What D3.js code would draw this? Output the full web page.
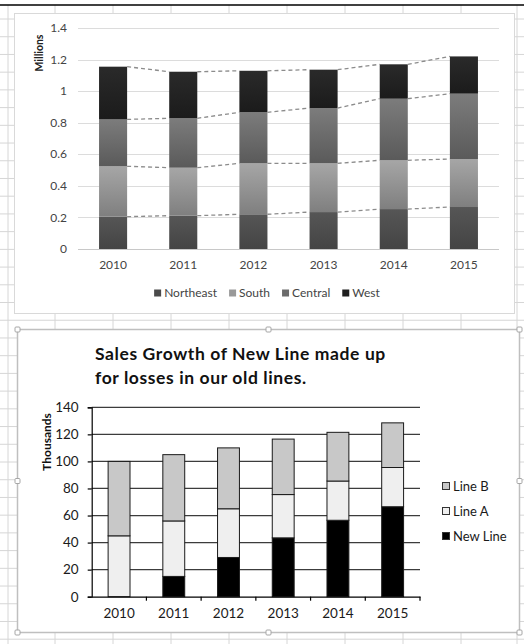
<!DOCTYPE html>
<html>
<head>
<meta charset="utf-8">
<script src="https://cdn.jsdelivr.net/npm/d3@7"></script>
<style>
  body { margin: 0; background: #fff; }
  text { font-family: Lato, "Liberation Sans", sans-serif; }
</style>
</head>
<body>
<script>
// ---- data: top chart (millions)
var years = ['2010', '2011', '2012', '2013', '2014', '2015'];
var regions = ['Northeast', 'South', 'Central', 'West'];
var northeast = [0.205, 0.211, 0.220, 0.234, 0.253, 0.266];
var south = [0.319, 0.304, 0.323, 0.309, 0.309, 0.304];
var central = [0.297, 0.313, 0.323, 0.350, 0.390, 0.414];
var west = [0.334, 0.295, 0.263, 0.243, 0.218, 0.236];
var topTicks = [0, 0.2, 0.4, 0.6, 0.8, 1, 1.2, 1.4];

// ---- data: bottom chart (thousands)
var lines = ['New Line', 'Line A', 'Line B'];
var newLine = [0, 15, 29, 43.5, 56.5, 66.5];
var lineA = [45, 41, 36, 32, 29, 29];
var lineB = [55, 49, 45, 41, 36, 33];
var botTicks = [0, 20, 40, 60, 80, 100, 120, 140];

var W = 524, H = 644;

var svg = d3.select('body')
    .append('svg')
    .attr('width', W)
    .attr('height', H);

// spreadsheet grid behind the charts
var colX = [8, 55, 113, 171, 229, 287, 345, 403, 461, 517];
var rowY = d3.range(19, H, 17.72);
svg.append('g').selectAll('line.col')
    .data(colX).enter().append('line')
    .attr('x1', d => d).attr('x2', d => d)
    .attr('y1', 5).attr('y2', H)
    .style('stroke', '#d6d6d6');
svg.append('g').selectAll('line.row')
    .data(rowY).enter().append('line')
    .attr('x1', 0).attr('x2', W)
    .attr('y1', d => d).attr('y2', d => d)
    .style('stroke', '#d6d6d6');
svg.append('line')
    .attr('x1', 0).attr('x2', W).attr('y1', 5).attr('y2', 5)
    .style('stroke', '#000').style('stroke-width', 1.5);

// ================= top chart =================
var topFrame = svg.append('g');
topFrame.append('rect')
    .attr('x', 14.5).attr('y', 13.5).attr('width', 500).attr('height', 300)
    .style('fill', '#fff').style('stroke', '#d9d9d9');

var xTop = d3.scaleBand().domain(years).range([78, 499]).paddingInner(0.6).paddingOuter(0.3);
var yTop = d3.scaleLinear().domain([0, 1.4]).range([249, 28]);

var topRows = years.map(function(y, i) {
    return {year: y, Northeast: northeast[i], South: south[i], Central: central[i], West: west[i]};
});
var topStack = d3.stack().keys(regions)(topRows);

var grad = [['#565656', '#444'], ['#a6a6a6', '#7f7f7f'], ['#7c7c7c', '#5a5a5a'], ['#2a2a2a', '#1b1b1b']];
var swatchTop = ['#4a4a4a', '#999999', '#6b6b6b', '#1e1e1e'];
var defs = svg.append('defs');
regions.forEach(function(r, i) {
    var g = defs.append('linearGradient')
        .attr('id', 'g' + i).attr('x1', 0).attr('x2', 0).attr('y1', 0).attr('y2', 1);
    g.append('stop').attr('offset', '0%').attr('stop-color', grad[i][0]);
    g.append('stop').attr('offset', '100%').attr('stop-color', grad[i][1]);
});

topFrame.append('g').selectAll('line')
    .data(topTicks).enter().append('line')
    .attr('x1', 78).attr('x2', 499)
    .attr('y1', d => Math.round(yTop(d)) + 0.5).attr('y2', d => Math.round(yTop(d)) + 0.5)
    .style('stroke', d => d === 0 ? '#c8c8c8' : '#dcdcdc');

topFrame.append('g').selectAll('text')
    .data(topTicks).enter().append('text')
    .attr('x', 67).attr('y', d => yTop(d))
    .attr('dy', '0.35em')
    .style('text-anchor', 'end')
    .style('font-size', '12px')
    .style('fill', '#444')
    .text(d => String(+d.toFixed(1)));

topFrame.append('text')
    .attr('transform', 'translate(43,53) rotate(-90)')
    .style('text-anchor', 'middle')
    .style('font-size', '10.5px')
    .style('font-weight', 'bold')
    .style('fill', '#222')
    .text('Millions');

topFrame.append('g').selectAll('g')
    .data(topStack).enter().append('g')
    .style('fill', (d, i) => 'url(#g' + i + ')')
    .selectAll('rect')
    .data(d => d).enter().append('rect')
    .attr('x', d => xTop(d.data.year))
    .attr('width', xTop.bandwidth())
    .attr('y', d => yTop(d[1]))
    .attr('height', d => yTop(d[0]) - yTop(d[1]));

// series lines between bars
var segs = [];
topStack.forEach(function(s) {
    for (var j = 0; j < years.length - 1; j++) {
        segs.push({a: s[j], b: s[j + 1]});
    }
});
topFrame.append('g').selectAll('line')
    .data(segs).enter().append('line')
    .attr('x1', d => xTop(d.a.data.year) + xTop.bandwidth())
    .attr('y1', d => yTop(d.a[1]))
    .attr('x2', d => xTop(d.b.data.year))
    .attr('y2', d => yTop(d.b[1]))
    .style('stroke', '#8c8c8c')
    .style('stroke-width', 1.3)
    .style('stroke-dasharray', '4,3');

topFrame.append('g').selectAll('text')
    .data(years).enter().append('text')
    .attr('x', d => xTop(d) + xTop.bandwidth() / 2)
    .attr('y', 265).attr('dy', '0.35em')
    .style('text-anchor', 'middle')
    .style('font-size', '12px')
    .style('fill', '#444')
    .text(d => d);

// legend, centered
var legTop = topFrame.append('g');
var items = legTop.selectAll('g').data(regions).enter().append('g');
items.append('rect')
    .attr('width', 7).attr('height', 7).attr('y', -3.5)
    .style('fill', (d, i) => swatchTop[i]);
items.append('text')
    .attr('x', 10).attr('dy', '0.35em')
    .style('font-size', '12px')
    .style('fill', '#444')
    .text(d => d);
var pos = 0;
items.each(function() {
    var w = 10 + d3.select(this).select('text').node().getComputedTextLength();
    d3.select(this).attr('data-x', pos);
    pos += w + 12;
});
var legW = pos - 12;
items.attr('transform', function() {
    return 'translate(' + (267 - legW / 2 + (+this.getAttribute('data-x'))) + ',293)';
});

// ================= bottom chart =================
var bot = svg.append('g');
bot.append('rect')
    .attr('x', 17.5).attr('y', 329.5).attr('width', 502).attr('height', 303)
    .style('fill', '#fff').style('stroke', '#bfbfbf').style('stroke-width', 1.5);

var handles = [[17.5, 329.5], [268.5, 329.5], [519.5, 329.5], [17.5, 481], [519.5, 481],
               [17.5, 632.5], [268.5, 632.5], [519.5, 632.5]];
bot.append('g').selectAll('rect')
    .data(handles).enter().append('rect')
    .attr('x', d => d[0] - 2.5).attr('y', d => d[1] - 2.5)
    .attr('width', 5).attr('height', 5).attr('rx', 1)
    .style('fill', '#fff').style('stroke', '#a6a6a6');

bot.append('text')
    .attr('x', 95).attr('y', 354).attr('dy', '0.35em')
    .style('font-size', '17.5px').style('font-weight', 'bold').style('fill', '#111')
    .style('letter-spacing', '0.6px')
    .text('Sales Growth of New Line made up');
bot.append('text')
    .attr('x', 95).attr('y', 378).attr('dy', '0.35em')
    .style('font-size', '17.5px').style('font-weight', 'bold').style('fill', '#111')
    .style('letter-spacing', '0.6px')
    .text('for losses in our old lines.');

var xBot = d3.scaleBand().domain(years).range([91.7, 420]).paddingInner(0.6).paddingOuter(0.3);
var yBot = d3.scaleLinear().domain([0, 140]).range([596.7, 407.3]);

bot.append('g').selectAll('line')
    .data(botTicks.slice(1)).enter().append('line')
    .attr('x1', 91.7).attr('x2', 420)
    .attr('y1', d => yBot(d)).attr('y2', d => yBot(d))
    .style('stroke', '#3c3c3c').style('stroke-width', 1.2);

var botRows = years.map(function(y, i) {
    return {year: y, 'New Line': newLine[i], 'Line A': lineA[i], 'Line B': lineB[i]};
});
var botStack = d3.stack().keys(lines)(botRows);
var botFill = ['#000000', '#efefef', '#c8c8c8'];

bot.append('g').selectAll('g')
    .data(botStack).enter().append('g')
    .style('fill', (d, i) => botFill[i])
    .selectAll('rect')
    .data(d => d.filter(p => p[1] > p[0])).enter().append('rect')
    .attr('x', d => xBot(d.data.year))
    .attr('width', xBot.bandwidth())
    .attr('y', d => yBot(d[1]))
    .attr('height', d => yBot(d[0]) - yBot(d[1]))
    .style('stroke', '#1a1a1a').style('stroke-width', 1);

// axes
var yAxis = d3.axisLeft(yBot).tickValues(botTicks).tickSize(4).tickFormat(d3.format('d'));
bot.append('g')
    .attr('transform', 'translate(91.7,0)')
    .call(yAxis)
    .call(g => g.selectAll('text').style('font-size', '13.5px').style('fill', '#1a1a1a')
        .style('font-family', 'Lato, sans-serif').attr('x', -13))
    .call(g => g.selectAll('line, path').style('stroke', '#000').style('stroke-width', 1.2));

var xAxis = d3.axisBottom(xBot).tickSize(0).tickSizeOuter(0);
var xg = bot.append('g')
    .attr('transform', 'translate(0,596.7)')
    .call(xAxis)
    .call(g => g.select('.domain').style('stroke', '#000').style('stroke-width', 1.2))
    .call(g => g.selectAll('text').style('font-size', '13.5px').style('fill', '#1a1a1a')
        .style('font-family', 'Lato, sans-serif').attr('y', 12));
// tick marks at category boundaries
xg.selectAll('line.bound')
    .data(years.slice(1).concat(['end'])).enter().append('line')
    .attr('class', 'bound')
    .attr('x1', d => d === 'end' ? 420 : xBot(d) - xBot.step() * 0.3)
    .attr('x2', d => d === 'end' ? 420 : xBot(d) - xBot.step() * 0.3)
    .attr('y1', 0).attr('y2', 4)
    .style('stroke', '#000').style('stroke-width', 1.2);

bot.append('text')
    .attr('transform', 'translate(47,442) rotate(-90)')
    .attr('dy', '0.35em')
    .style('text-anchor', 'middle')
    .style('font-size', '12px')
    .style('font-weight', 'bold')
    .style('fill', '#111')
    .text('Thousands');

// legend, reversed order like Excel
var legBot = bot.append('g').selectAll('g')
    .data(lines.slice().reverse()).enter().append('g')
    .attr('transform', (d, i) => 'translate(442,' + (486 + i * 25) + ')');
legBot.append('rect')
    .attr('x', 0.5).attr('y', -3.5).attr('width', 7).attr('height', 7)
    .style('fill', d => botFill[lines.indexOf(d)])
    .style('stroke', '#333');
legBot.append('text')
    .attr('x', 11).attr('dy', '0.35em')
    .style('font-size', '13px')
    .style('fill', '#1a1a1a')
    .text(d => d);
</script>
</body>
</html>
